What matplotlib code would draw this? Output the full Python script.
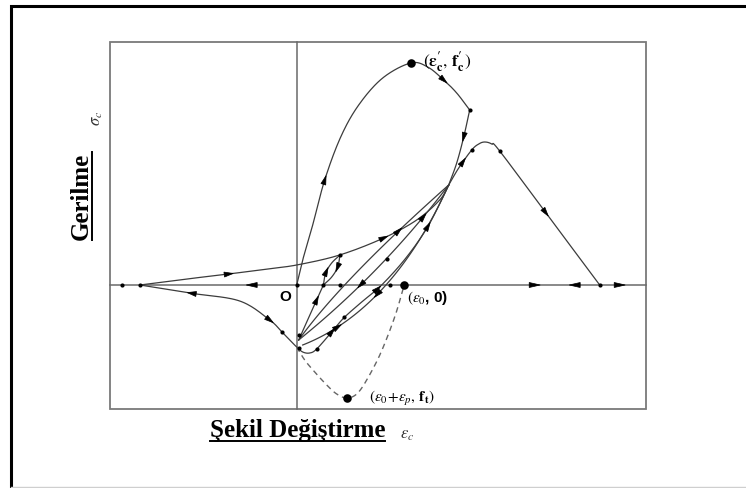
import numpy as np
import matplotlib
matplotlib.use("Agg")
import matplotlib.pyplot as plt
from matplotlib.patches import Polygon, Rectangle

# stress-strain hysteresis sketch, coordinates in drawing units (origin at O)
env_rise_x = [0, 6, 16, 28, 44, 62, 86, 114, 131, 147, 160, 173]
env_rise_y = [0, 25, 60, 105, 148, 180, 207, 222, 218, 205, 192, 175]
env_drop_x = [173, 167, 160, 152]
env_drop_y = [175, 148, 122, 100]
branch2_x = [152, 162, 175, 182, 188, 195, 203, 253, 303]
branch2_y = [100, 117, 135, 141, 143, 141, 134, 67, 0]
reload_x = [-156.7, -110, -68, -30, 0, 43, 87, 120, 143, 152]
reload_y = [0, 6, 11, 16, 20, 30, 47, 65, 85, 100]
lower_x = [-156.7, -105, -57, -27, -15, -6, 0, 6, 13, 20, 35, 47, 65, 85, 110, 132, 152]
lower_y = [0, -8.3, -16, -35, -46.7, -56, -62, -67, -68, -64, -47, -33, -17, 0, 28, 60, 100]
tension_x = [0, 8, 18, 30, 40, 50, 60, 70, 84, 98, 107.5]
tension_y = [-62, -75, -87, -100, -109, -113, -109, -95, -68, -32, 0]
loop_a_x = [26.7, 29, 35, 43.3]
loop_a_y = [0, 12, 22, 30]
loop_b_x = [26.7, 35, 41, 43.3]
loop_b_y = [0, 8, 18, 30]
# fan of unloading/reloading lines: start, control, end
fan_start = [(2, -55), (2, -55), (2, -55), (6, -60)]
fan_ctrl = [(14, -28), (45, 5), (85, 12), (95, -25)]
fan_end = [(26.7, 0), (152, 100), (152, 100), (152, 100)]

small_dots_x = [-175, -156.7, 0, 26.7, 43.3, 93.3, 43.3, 90, 173, 175, 203, 303.3, -15, 2, 2, 20, 47]
small_dots_y = [0, 0, 0, 0, 0, 0, 30, 26, 175, 135, 134, 0, -46.7, -50, -63, -64, -32]
big_dots_x = [114, 107.5, 50]
big_dots_y = [222, 0, -113]

# arrows: curve name, approx position, direction along curve
arrows = [
    ("rise", 28, 105, 1), ("rise", 147, 205, 1), ("drop", 167, 148, 1),
    ("branch2", 167, 122, 1), ("branch2", 248, 74, 1),
    ("reload", -68, 11, 1), ("reload", 87, 47, 1),
    ("lower", -105, -8, -1), ("lower", -27, -35, 1), ("lower", 35, -47, 1),
    ("lower", 80, -4, 1), ("lower", 131, 58, 1),
    ("fan0", 20, -15, 1), ("fan1", 108, 50, 1), ("fan2", 62, 3, -1),
    ("fan2", 125, 68, 1), ("fan3", 75, -4, -1), ("fan3", 40, -40, 1),
    ("loop_a", 30, 13, 1), ("loop_b", 40, 18, -1),
]
axis_arrows_x = [-45, 238, 278, 323]
axis_arrows_dir = [-1, 1, -1, 1]

box_left, box_right, box_bottom, box_top = -186.7, 349.3, -124, 243


def smooth(xs, ys, n=25):
    p = np.column_stack([xs, ys]).astype(float)
    p = np.vstack([2 * p[0] - p[1], p, 2 * p[-1] - p[-2]])
    out = []
    t = np.linspace(0, 1, n, endpoint=False)[:, None]
    for i in range(1, len(p) - 2):
        p0, p1, p2, p3 = p[i - 1], p[i], p[i + 1], p[i + 2]
        out.append(0.5 * (2 * p1 + (-p0 + p2) * t + (2 * p0 - 5 * p1 + 4 * p2 - p3) * t ** 2
                          + (-p0 + 3 * p1 - 3 * p2 + p3) * t ** 3))
    out.append(p[-2][None])
    return np.vstack(out)


def bezier(a, c, b, n=60):
    t = np.linspace(0, 1, n)[:, None]
    a, c, b = np.array(a, float), np.array(c, float), np.array(b, float)
    return (1 - t) ** 2 * a + 2 * (1 - t) * t * c + t ** 2 * b


def arrowhead(ax, pos, d, length=9, width=5):
    d = np.asarray(d, float)
    d = d / np.hypot(*d)
    nrm = np.array([-d[1], d[0]])
    pos = np.asarray(pos, float)
    tip = pos + d * length / 2
    base = pos - d * length / 2
    ax.add_patch(Polygon([tip, base + nrm * width / 2, base - nrm * width / 2],
                         closed=True, fc="black", ec="black", lw=0.5, zorder=5))


fig = plt.figure(figsize=(7.46, 4.88), dpi=100)
ax = fig.add_axes([0, 0, 1, 1])
ax.set_xlim(-296.7, 449.3)
ax.set_ylim(-203, 285)
ax.axis("off")

# outer frame
ax.plot([-285.5, -285.5, 460], [-203, 279, 279], color="black", lw=2.2, solid_joinstyle="miter")
ax.plot([-285.5, 460], [-201.5, -201.5], color="#cfcfcf", lw=1)

# plot box and axes
ax.add_patch(Rectangle((box_left, box_bottom), box_right - box_left, box_top - box_bottom,
                       fill=False, ec="#7a7a7a", lw=1.3))
ax.plot([box_left, box_right], [0, 0], color="#6a6a6a", lw=1.1)
ax.plot([0, 0], [box_bottom, box_top], color="#6a6a6a", lw=1.1)

curves = {
    "rise": smooth(env_rise_x, env_rise_y),
    "drop": smooth(env_drop_x, env_drop_y),
    "branch2": smooth(branch2_x, branch2_y),
    "reload": smooth(reload_x, reload_y),
    "lower": smooth(lower_x, lower_y),
    "loop_a": smooth(loop_a_x, loop_a_y),
    "loop_b": smooth(loop_b_x, loop_b_y),
}
for i, (a, c, b) in enumerate(zip(fan_start, fan_ctrl, fan_end)):
    curves["fan%d" % i] = bezier(a, c, b)

line_color = "#3c3c3c"
for name, pts in curves.items():
    ax.plot(pts[:, 0], pts[:, 1], color=line_color, lw=0.9, zorder=3)

tens = smooth(tension_x, tension_y)
ax.plot(tens[:, 0], tens[:, 1], color="#666666", lw=1.0, ls=(0, (4, 3)), zorder=3)

for name, x, y, sgn in arrows:
    pts = curves[name]
    i = int(np.argmin(np.hypot(pts[:, 0] - x, pts[:, 1] - y)))
    i = min(max(i, 1), len(pts) - 2)
    arrowhead(ax, pts[i], (pts[i + 1] - pts[i - 1]) * sgn)

for x, s in zip(axis_arrows_x, axis_arrows_dir):
    arrowhead(ax, (x, 0), (s, 0), length=11, width=5)

ax.scatter(small_dots_x, small_dots_y, s=9, color="black", zorder=6, lw=0)
ax.scatter(big_dots_x, big_dots_y, s=38, color="black", zorder=6, lw=0)

plt.rcParams["mathtext.fontset"] = "stix"
ax.text(126, 223, r"$(\mathbf{\varepsilon_{c}^{\prime}},\,\mathbf{f_{c}^{\prime}})$", fontsize=12.5,
        ha="left", va="center", family="Liberation Serif")
ax.text(110, -13, r"$(\varepsilon_{0}$, 0)", fontsize=11, fontweight="bold",
        ha="left", va="center", family="Liberation Sans")
ax.text(72, -113, r"$(\varepsilon_{0}\!+\!\varepsilon_{p},\,\mathbf{f_{t}})$", fontsize=11,
        ha="left", va="center", family="Liberation Serif")
ax.text(-11, -12, "O", fontsize=11, fontweight="bold", ha="center", va="center",
        family="Liberation Sans")

t_y = ax.text(-215.7, 89, "Gerilme", fontsize=18, fontweight="bold", rotation=90,
              ha="center", va="center", family="Liberation Serif")
ax.text(-201, 167, r"$\sigma_c$", fontsize=12, rotation=90, ha="center", va="center", color="#333333")
t_x = ax.text(1, -146, "Şekil Değiştirme", fontsize=18, fontweight="bold",
              ha="center", va="center", family="Liberation Serif")
ax.text(110, -149, r"$\varepsilon_c$", fontsize=12, ha="center", va="center", color="#333333")

# underline the two axis titles
fig.canvas.draw()
inv = ax.transData.inverted()
bb = inv.transform(t_x.get_window_extent().get_points())
ax.plot([bb[0, 0], bb[1, 0]], [bb[0, 1] + 2, bb[0, 1] + 2], color="black", lw=1.4)
bb = inv.transform(t_y.get_window_extent().get_points())
ax.plot([bb[1, 0] - 1, bb[1, 0] - 1], [bb[0, 1], bb[1, 1]], color="black", lw=1.4)

fig.savefig("out.png", dpi=100)
